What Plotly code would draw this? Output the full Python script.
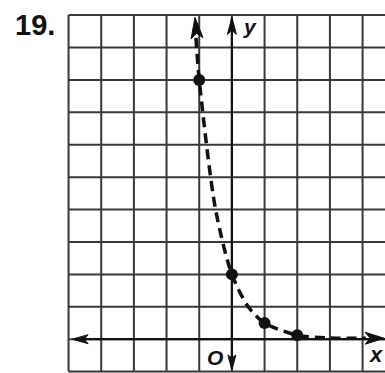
import plotly.graph_objects as go

# Points plotted on the curve
pts_x = [-1, 0, 1, 2]
pts_y = [8, 2, 0.5, 0.125]

# Extra readings used to trace the dashed curve between its arrow ends
curve_x = [-1.1, -1, -0.5, 0, 0.5, 1, 2, 3, 4.1]
curve_y = [9.3, 8, 4, 2, 1.0, 0.5, 0.125, 0.04, 0.03]

# Grid extent (unit squares)
grid_x = list(range(-5, 5))
grid_y = list(range(-1, 11))

W, H = 385, 373
# pixel geometry of the grid
X0_PX, SX = 231.9, 32.67      # pixel of x=0, pixels per unit
Y0_PX, SY = 339.2, 32.41      # pixel of y=0, pixels per unit
x_range = [-X0_PX / SX, (W - X0_PX) / SX]
y_range = [(Y0_PX - H) / SY, Y0_PX / SY]

INK = "#111111"
GRID = "#383838"


def to_data(px, py):
    return (px - X0_PX) / SX, (Y0_PX - py) / SY


def to_px(x, y):
    return X0_PX + x * SX, Y0_PX - y * SY


def arrow_head(tip_x, tip_y, ux, uy, length, width, notch):
    """Notched arrowhead path; (ux, uy) is the direction in pixel space."""
    n = (ux * ux + uy * uy) ** 0.5
    ux, uy = ux / n, uy / n
    vx, vy = -uy, ux
    tx, ty = to_px(tip_x, tip_y)
    pts = [
        (tx, ty),
        (tx - length * ux + width / 2 * vx, ty - length * uy + width / 2 * vy),
        (tx - (length - notch) * ux, ty - (length - notch) * uy),
        (tx - length * ux - width / 2 * vx, ty - length * uy - width / 2 * vy),
    ]
    d = [to_data(px, py) for px, py in pts]
    path = "M " + " L ".join(f"{a:.4f},{b:.4f}" for a, b in d) + " Z"
    return dict(type="path", path=path, xref="x", yref="y",
                fillcolor=INK, line=dict(color=INK, width=1), layer="above")


shapes = []
for gx in grid_x:
    shapes.append(dict(type="line", xref="x", yref="y", x0=gx, x1=gx,
                       y0=grid_y[0], y1=grid_y[-1],
                       line=dict(color=GRID, width=2), layer="below"))
for gy in grid_y:
    shapes.append(dict(type="line", xref="x", yref="y", x0=grid_x[0], x1=x_range[1] + 0.2,
                       y0=gy, y1=gy,
                       line=dict(color=GRID, width=2), layer="below"))

# coordinate axes
shapes.append(dict(type="line", xref="x", yref="y", x0=grid_x[0] + 0.2, x1=x_range[1] + 0.2,
                   y0=0, y1=0, line=dict(color=INK, width=2.2), layer="below"))
shapes.append(dict(type="line", xref="x", yref="y", x0=0, x1=0,
                   y0=grid_y[0] + 0.1, y1=grid_y[-1] - 0.1,
                   line=dict(color=INK, width=2.2), layer="below"))

# axis arrowheads
shapes.append(arrow_head(0, 9.93, 0, -1, 17, 9, 4))
shapes.append(arrow_head(0, -0.95, 0, 1, 15, 8, 3))
shapes.append(arrow_head(-4.89, 0, -1, 0, 16, 9, 4))

# curve arrowheads
shapes.append(arrow_head(-1.13, 9.93, -0.1, -1, 21, 12, 5))
shapes.append(arrow_head(4.66, 0.03, 1, 0, 19, 12, 5))

fig = go.Figure()
fig.add_trace(go.Scatter(
    x=curve_x, y=curve_y, mode="lines",
    line=dict(color=INK, width=3.5, dash="10px,6px", shape="spline", smoothing=0.8),
    hoverinfo="skip", showlegend=False))
fig.add_trace(go.Scatter(
    x=pts_x, y=pts_y, mode="markers",
    marker=dict(color=INK, size=12), showlegend=False))

labels = [
    dict(text="<b>19.</b>", px=34.5, py=25, size=29, anchor="center"),
    dict(text="<b><i>y</i></b>", px=250, py=26, size=21, anchor="center"),
    dict(text="<b><i>O</i></b>", px=214.5, py=357, size=21, anchor="center"),
    dict(text="<b><i>x</i></b>", px=385, py=354, size=22, anchor="right"),
]
annotations = []
for lb in labels:
    annotations.append(dict(
        text=lb["text"], xref="paper", yref="paper",
        x=lb["px"] / W, y=1 - lb["py"] / H, xanchor=lb["anchor"], yanchor="middle",
        showarrow=False, font=dict(family="Liberation Sans, Arial, sans-serif",
                                   size=lb["size"], color=INK)))

fig.update_layout(
    width=W, height=H,
    margin=dict(l=0, r=0, t=0, b=0, pad=0),
    paper_bgcolor="white", plot_bgcolor="white",
    xaxis=dict(range=x_range, visible=False, fixedrange=True),
    yaxis=dict(range=y_range, visible=False, fixedrange=True),
    shapes=shapes, annotations=annotations,
    showlegend=False,
)

fig.write_html("out.html", config={"displayModeBar": False})
